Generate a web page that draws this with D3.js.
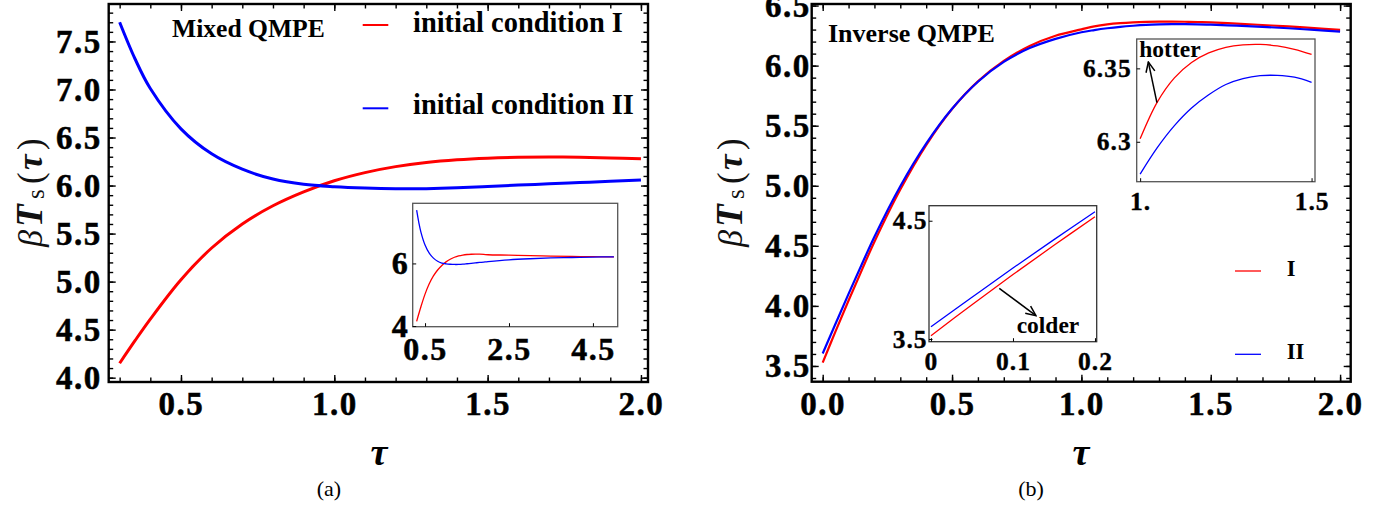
<!DOCTYPE html>
<html><head><meta charset="utf-8">
<script src="https://cdn.jsdelivr.net/npm/d3@7"></script>
<style>
html,body{margin:0;padding:0;background:#fff;}
svg{display:block;}
</style></head>
<body><svg id="fig" width="1395" height="508"></svg>
<script>
// ---- Panel (a): mixed QMPE, beta*T_s(tau) for the two initial conditions ----
const tauA  = [0.3,0.35,0.4,0.5,0.6,0.7,0.8,0.9,1.0,1.1,1.2,1.3,1.4,1.5,1.6,1.7,1.8,1.9,2.0,2.5,3.0,3.5,4.0,4.5,5.0];
const redA  = [4.15,4.385,4.61,5.02,5.35,5.60,5.79,5.935,6.05,6.135,6.197,6.24,6.268,6.285,6.294,6.297,6.295,6.288,6.278,6.265,6.25,6.235,6.225,6.215,6.21];
const blueA = [7.70,7.32,7.01,6.59,6.33,6.17,6.068,6.013,5.988,5.974,5.967,5.968,5.976,5.99,6.005,6.018,6.031,6.045,6.059,6.115,6.15,6.175,6.19,6.203,6.21];

// ---- Panel (b): inverse QMPE ----
const tauB  = [0,0.05,0.1,0.15,0.2,0.3,0.4,0.5,0.6,0.7,0.8,0.9,1.0,1.05,1.1,1.15,1.2,1.25,1.3,1.35,1.4,1.45,1.5,1.6,1.7,1.8,1.9,2.0];
const redB  = [3.528,3.79,4.045,4.292,4.534,4.969,5.339,5.639,5.869,6.039,6.164,6.249,6.302,6.327,6.3435,6.354,6.3605,6.3643,6.366,6.3663,6.3653,6.363,6.3595,6.35,6.338,6.326,6.312,6.298];
const blueB = [3.604,3.853,4.10,4.34,4.576,4.996,5.351,5.641,5.866,6.031,6.146,6.223,6.278,6.296,6.311,6.323,6.332,6.339,6.343,6.345,6.3452,6.344,6.3405,6.333,6.323,6.311,6.297,6.283];

// tick labels
const xTicksA = ["0.5","1.0","1.5","2.0"];
const yTicksA = ["4.0","4.5","5.0","5.5","6.0","6.5","7.0","7.5"];
const xTicksB = ["0.0","0.5","1.0","1.5","2.0"];
const yTicksB = ["3.5","4.0","4.5","5.0","5.5","6.0","6.5"];
const xTicksInA = ["0.5","2.5","4.5"], yTicksInA = ["4","6"];
const xTicksInB1 = ["0","0.1","0.2"],  yTicksInB1 = ["3.5","4.5"];
const xTicksInB2 = ["1.","1.5"],       yTicksInB2 = ["6.3","6.35"];

// legend text
const legendA = ["initial condition I","initial condition II"];
const legendB = ["I","II"];

const RED = "#ff0000", BLUE = "#0000ff";
const SERIF = "'Liberation Serif','Times New Roman',serif";
const svg = d3.select("#fig");

const zip = (t, v) => t.map((d, i) => [d, v[i]]);

function step(lo, hi, s) {
  return d3.range(Math.round(lo / s), Math.round(hi / s) + 1).map(k => +(k * s).toFixed(4));
}

// inward ticks on one side, labels outside
function axis(g, make, scale, at, majors, labels, minors, opt) {
  if (minors) {
    const m = g.append("g").attr("transform", at)
      .call(make(scale).tickValues(minors).tickSize(-opt.minor).tickFormat(""));
    m.select(".domain").remove();
    m.selectAll("line").attr("stroke", "#000").attr("stroke-width", opt.tw);
  }
  const a = g.append("g").attr("transform", at)
    .call(make(scale).tickValues(majors).tickSize(-opt.major)
      .tickPadding(opt.pad || 0).tickFormat((d, i) => labels ? labels[i] : ""));
  a.select(".domain").remove();
  a.selectAll("line").attr("stroke", "#000").attr("stroke-width", opt.tw);
  a.attr("font-family", SERIF).attr("font-size", opt.fs || 10).attr("font-weight", "bold");
  a.selectAll("text").attr("fill", "#000")
    .attr("stroke", "#000").attr("stroke-width", opt.sw || 0)
    .style("letter-spacing", (opt.ls || 0) + "px");
}

function frame(g, x, y, stroke, sw) {
  const [x0, x1] = x.range(), [y0, y1] = y.range();
  g.append("rect").attr("x", x0).attr("y", y1).attr("width", x1 - x0).attr("height", y0 - y1)
    .attr("fill", "#fff").attr("stroke", stroke).attr("stroke-width", sw);
}

function curve(g, x, y, pts, color, sw, clipId) {
  g.append("path").datum(pts)
    .attr("fill", "none").attr("stroke", color).attr("stroke-width", sw)
    .attr("stroke-linejoin", "round").attr("clip-path", clipId ? `url(#${clipId})` : null)
    .attr("d", d3.line().x(d => x(d[0])).y(d => y(d[1])).curve(d3.curveCatmullRom.alpha(0.5)));
}

function clip(id, x, y) {
  const [x0, x1] = x.range(), [y0, y1] = y.range();
  svg.append("clipPath").attr("id", id).append("rect")
    .attr("x", x0).attr("y", y1).attr("width", x1 - x0).attr("height", y0 - y1);
}

// rotated axis title  beta T_s (tau)
function yTitle(bx, by) {
  const t = svg.append("text").attr("transform", `translate(${bx},${by}) rotate(-90)`)
    .attr("font-family", SERIF).attr("fill", "#111");
  const runs = [
    { s: "β", x: 0,  fs: 34, st: "italic", w: "normal" },
    { s: "T", x: 20, fs: 37, st: "italic", w: "bold" },
    { s: "s", x: 48, fs: 25, st: "normal", w: "normal", dy: 2 },
    { s: "(", x: 63, fs: 35, st: "normal", w: "normal" },
    { s: "τ", x: 77, fs: 35, st: "italic", w: "bold" },
    { s: ")", x: 97, fs: 35, st: "normal", w: "normal" }
  ];
  runs.forEach(r => t.append("tspan").attr("x", r.x).attr("y", r.dy || 0)
    .attr("font-size", r.fs).attr("font-style", r.st).attr("font-weight", r.w).text(r.s));
}

function xTitle(cx, by) {
  svg.append("text").attr("x", cx).attr("y", by).attr("text-anchor", "middle")
    .attr("font-family", SERIF).attr("font-size", 38).attr("font-style", "italic")
    .attr("font-weight", "bold").text("τ");
}

function label(g, x, y, s, fs, anchor) {
  g.append("text").attr("x", x).attr("y", y).attr("text-anchor", anchor || "start")
    .attr("font-family", SERIF).attr("font-size", fs).attr("font-weight", "bold").text(s);
}

// arrow marker (open head)
svg.append("defs").append("marker").attr("id", "head")
  .attr("viewBox", "0 0 12 12").attr("refX", 11).attr("refY", 6)
  .attr("markerWidth", 12).attr("markerHeight", 12).attr("markerUnits", "userSpaceOnUse")
  .attr("orient", "auto")
  .append("path").attr("d", "M1,1.5 L11,6 L1,10.5").attr("fill", "none")
  .attr("stroke", "#000").attr("stroke-width", 1.5);

function arrow(g, x, y, from, to) {
  g.append("line").attr("x1", x(from[0])).attr("y1", y(from[1]))
    .attr("x2", x(to[0])).attr("y2", y(to[1]))
    .attr("stroke", "#000").attr("stroke-width", 1.5).attr("marker-end", "url(#head)");
}

const mainOpt = { major: 7, minor: 4.5, tw: 1.4 };
const tickFont = { fs: 33, ls: 1.5, sw: 0.5 };

// ================= panel (a) =================
{
  const g = svg.append("g");
  const x = d3.scaleLinear().domain([0.2643, 2.023]).range([108.7, 648]);
  const y = d3.scaleLinear().domain([3.955, 7.89]).range([382, 4]);
  frame(g, x, y, "#000", 2.4);
  const xv = xTicksA.map(Number), yv = yTicksA.map(Number);
  const xm = step(0.3, 2.0, 0.1), ym = step(4.0, 7.8, 0.1);
  axis(g, d3.axisBottom, x, "translate(0,382)", xv, xTicksA, xm, { ...mainOpt, ...tickFont, pad: 10 });
  axis(g, d3.axisTop, x, "translate(0,4)", xv, null, xm, mainOpt);
  axis(g, d3.axisLeft, y, "translate(108.7,0)", yv, yTicksA, ym, { ...mainOpt, ...tickFont, pad: 7 });
  axis(g, d3.axisRight, y, "translate(648,0)", yv, null, ym, mainOpt);

  clip("clipA", x, y);
  const main = tauA.map((t, i) => i).filter(i => tauA[i] <= 2.0);
  curve(g, x, y, main.map(i => [tauA[i], redA[i]]), RED, 3, "clipA");
  curve(g, x, y, main.map(i => [tauA[i], blueA[i]]), BLUE, 3, "clipA");

  label(g, 172, 37.3, "Mixed QMPE", 25.6);
  g.append("line").attr("x1", 362.7).attr("x2", 388.3).attr("y1", 25).attr("y2", 25).attr("stroke", RED).attr("stroke-width", 2);
  g.append("line").attr("x1", 362.7).attr("x2", 388.3).attr("y1", 108.3).attr("y2", 108.3).attr("stroke", BLUE).attr("stroke-width", 2);
  label(g, 413, 31.7, legendA[0], 28.4);
  label(g, 413, 114.3, legendA[1], 28.4);

  // inset: full relaxation up to tau = 5
  const xi = d3.scaleLinear().domain([0.206, 5.09]).range([412.7, 617.7]);
  const yi = d3.scaleLinear().domain([3.98, 7.92]).range([326.7, 203.3]);
  frame(g, xi, yi, "#555", 1.3);
  const inOpt = { major: 3.5, minor: 0, tw: 1 };
  axis(g, d3.axisBottom, xi, "translate(0,326.7)", xTicksInA.map(Number), xTicksInA, null, { ...inOpt, pad: 10.5, fs: 32, ls: 1.5, sw: 0.5 });
  axis(g, d3.axisLeft, yi, "translate(412.7,0)", yTicksInA.map(Number), yTicksInA, null, { ...inOpt, pad: 5, fs: 32, sw: 0.5 });
  clip("clipAi", xi, yi);
  curve(g, xi, yi, zip(tauA, redA), RED, 1.3, "clipAi");
  curve(g, xi, yi, zip(tauA, blueA), BLUE, 1.3, "clipAi");

  yTitle(42, 247);
  xTitle(379, 465);
  svg.append("text").attr("x", 329).attr("y", 496).attr("text-anchor", "middle")
    .attr("font-family", SERIF).attr("font-size", 22).text("(a)");
}

// ================= panel (b) =================
{
  const g = svg.append("g");
  const x = d3.scaleLinear().domain([-0.0425, 2.041]).range([811.7, 1350.7]);
  const y = d3.scaleLinear().domain([3.369, 6.513]).range([381.7, 4]);
  frame(g, x, y, "#000", 2.4);
  const xv = xTicksB.map(Number), yv = yTicksB.map(Number);
  const xm = step(0, 2.0, 0.1), ym = step(3.4, 6.5, 0.1);
  axis(g, d3.axisBottom, x, "translate(0,381.7)", xv, xTicksB, xm, { ...mainOpt, ...tickFont, pad: 10.3 });
  axis(g, d3.axisTop, x, "translate(0,4)", xv, null, xm, mainOpt);
  axis(g, d3.axisLeft, y, "translate(811.7,0)", yv, yTicksB, ym, { ...mainOpt, ...tickFont, pad: 1 });
  axis(g, d3.axisRight, y, "translate(1350.7,0)", yv, null, ym, mainOpt);

  clip("clipB", x, y);
  curve(g, x, y, zip(tauB, redB), RED, 2.2, "clipB");
  curve(g, x, y, zip(tauB, blueB), BLUE, 2.2, "clipB");

  label(g, 828, 41.7, "Inverse QMPE", 26);
  g.append("line").attr("x1", 1235).attr("x2", 1261).attr("y1", 271).attr("y2", 271).attr("stroke", RED).attr("stroke-width", 1.3);
  g.append("line").attr("x1", 1235).attr("x2", 1261).attr("y1", 354.3).attr("y2", 354.3).attr("stroke", BLUE).attr("stroke-width", 1.3);
  label(g, 1286.7, 276, legendB[0], 22.5);
  label(g, 1286.7, 359, legendB[1], 22.5);

  const inOpt = { major: 3.5, minor: 0, tw: 1 };
  const inFont = { fs: 25.5, ls: 1, sw: 0.35 };

  // inset: early times, 0 <= tau <= 0.2
  const x1 = d3.scaleLinear().domain([-0.0024, 0.2021]).range([929, 1096.7]);
  const y1 = d3.scaleLinear().domain([3.477, 4.627]).range([341.7, 205.7]);
  frame(g, x1, y1, "#333", 1.3);
  axis(g, d3.axisBottom, x1, "translate(0,341.7)", xTicksInB1.map(Number), xTicksInB1, null, { ...inOpt, ...inFont, pad: 10.5 });
  axis(g, d3.axisLeft, y1, "translate(929,0)", yTicksInB1.map(Number), yTicksInB1, null, { ...inOpt, ...inFont, pad: 1.5 });
  const early = tauB.map((t, i) => i).filter(i => tauB[i] <= 0.2);
  clip("clipB1", x1, y1);
  curve(g, x1, y1, early.map(i => [tauB[i], blueB[i]]), BLUE, 1.3, "clipB1");
  curve(g, x1, y1, early.map(i => [tauB[i], redB[i]]), RED, 1.3, "clipB1");
  arrow(g, x1, y1, [0.0833, 3.9286], [0.128, 3.697]);
  label(g, x1(0.1045), y1(3.548), "colder", 23.5);

  // inset: near the maximum, 1 <= tau <= 1.5
  const x2 = d3.scaleLinear().domain([0.990, 1.51]).range([1136.7, 1315]);
  const y2 = d3.scaleLinear().domain([6.2728, 6.370]).range([181.7, 39]);
  frame(g, x2, y2, "#555", 1.3);
  axis(g, d3.axisBottom, x2, "translate(0,181.7)", xTicksInB2.map(Number), xTicksInB2, null, { ...inOpt, ...inFont, pad: 10 });
  axis(g, d3.axisLeft, y2, "translate(1136.7,0)", yTicksInB2.map(Number), yTicksInB2, null, { ...inOpt, ...inFont, pad: 5 });
  const late = tauB.map((t, i) => i).filter(i => tauB[i] >= 1.0 && tauB[i] <= 1.5);
  clip("clipB2", x2, y2);
  curve(g, x2, y2, late.map(i => [tauB[i], redB[i]]), RED, 1.3, "clipB2");
  curve(g, x2, y2, late.map(i => [tauB[i], blueB[i]]), BLUE, 1.3, "clipB2");
  arrow(g, x2, y2, [1.049, 6.3266], [1.024, 6.3543]);
  label(g, x2(0.9975), y2(6.3575), "hotter", 23.5);

  yTitle(742, 247);
  xTitle(1081, 465);
  svg.append("text").attr("x", 1031).attr("y", 496).attr("text-anchor", "middle")
    .attr("font-family", SERIF).attr("font-size", 22).text("(b)");
}
</script>
</body></html>
